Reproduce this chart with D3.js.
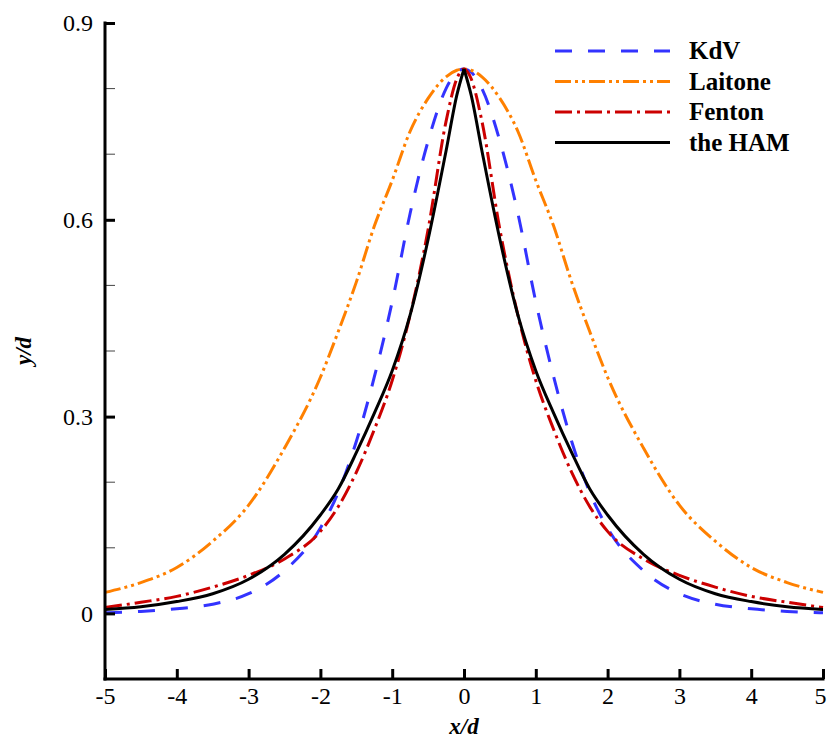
<!DOCTYPE html>
<html>
<head>
<meta charset="utf-8">
<script src="https://cdn.jsdelivr.net/npm/d3@7"></script>
<style>
  body { margin: 0; background: #fff; }
  text { font-family: "Liberation Serif", "Times New Roman", serif; }
</style>
</head>
<body>
<div id="chart-holder"></div>
<script>
      // DATA
      var xs = [-5, -4.5, -4, -3.5, -3, -2.5, -2, -1.75, -1.5, -1.25, -1, -0.75, -0.5, -0.25, -0.1,
                0, 0.1, 0.25, 0.5, 0.75, 1, 1.25, 1.5, 1.75, 2, 2.5, 3, 3.5, 4, 4.5, 5];
      var kdv = [0.001, 0.003, 0.007, 0.014, 0.03, 0.065, 0.13, 0.185, 0.262, 0.36, 0.475, 0.61, 0.72, 0.80, 0.825,
                 0.83, 0.825, 0.80, 0.72, 0.61, 0.475, 0.36, 0.262, 0.185, 0.13, 0.065, 0.03, 0.014, 0.007, 0.003, 0.001];
      var laitone = [0.032, 0.047, 0.07, 0.11, 0.165, 0.252, 0.36, 0.43, 0.505, 0.59, 0.66, 0.735, 0.785, 0.818, 0.828,
                     0.83, 0.828, 0.818, 0.785, 0.735, 0.66, 0.59, 0.505, 0.43, 0.36, 0.252, 0.165, 0.11, 0.07, 0.047, 0.032];
      var fenton = [0.009, 0.017, 0.026, 0.04, 0.058, 0.083, 0.125, 0.163, 0.215, 0.28, 0.355, 0.455, 0.585, 0.75, 0.815,
                    0.83, 0.815, 0.75, 0.585, 0.455, 0.355, 0.28, 0.215, 0.163, 0.125, 0.083, 0.058, 0.04, 0.026, 0.017, 0.009];
      var ham = [0.006, 0.01, 0.018, 0.03, 0.052, 0.09, 0.15, 0.19, 0.245, 0.305, 0.37, 0.455, 0.57, 0.705, 0.79,
                 0.83, 0.79, 0.705, 0.57, 0.455, 0.37, 0.305, 0.245, 0.19, 0.15, 0.09, 0.052, 0.03, 0.018, 0.01, 0.006];
      var seriesNames = ["KdV", "Laitone", "Fenton", "the HAM"];
      var xTicks = [-5, -4, -3, -2, -1, 0, 1, 2, 3, 4, 5];
      var yTicks = [0, 0.3, 0.6, 0.9];
      var yMinorTicks = [-0.1, 0.1, 0.2, 0.4, 0.5, 0.7, 0.8];

      var width = 827, height = 740;
      var margin = { left: 105, right: 4, top: 23, bottom: 61 };
      var fontSize = 24;

      // scales
      var x = d3
        .scaleLinear()
        .domain([-5, 5])
        .range([margin.left, width - margin.right])
      ;
      var y = d3
        .scaleLinear()
        .domain([-0.1, 0.9])
        .range([height - margin.bottom, margin.top])
      ;

      var svg = d3
        .select("#chart-holder")
        .append("svg")
        .attr("width", width)
        .attr("height", height)
      ;

      // line styles for each series
      var styles = [
        { color: "#3333ff", dash: "17,16" },
        { color: "#ff8000", dash: "16,4,3,4,3,4" },
        { color: "#cc0000", dash: "17,5,3,5" },
        { color: "#000000", dash: null }
      ];
      var seriesData = [kdv, laitone, fenton, ham];

      var line = d3
        .line()
        .x(function(d) { return x(d[0]); })
        .y(function(d) { return y(d[1]); })
        .curve(d3.curveMonotoneX)
      ;

      var curves = svg.append("g").attr("id", "curves");
      seriesData.forEach(function(vals, i) {
        var pts = xs.map(function(xv, j) { return [xv, vals[j]]; });
        // the HAM curve has a sharp crest, so draw it as two halves
        var parts = i == 3
          ? [pts.filter(function(p) { return p[0] <= 0; }), pts.filter(function(p) { return p[0] >= 0; })]
          : [pts];
        parts.forEach(function(part) {
          curves
            .append("path")
            .attr("d", line(part))
            .attr("fill", "none")
            .attr("stroke", styles[i].color)
            .attr("stroke-width", 3)
            .attr("stroke-dasharray", styles[i].dash)
          ;
        });
      });

      // plain hyphen for negatives, like the original
      var fmt = function(d) { return String(d); };

      // y axis, ticks pointing inward
      var yAxis = svg.append("g").attr("transform", "translate(" + margin.left + ",0)");
      yAxis
        .selectAll(".minor")
        .data(yMinorTicks)
        .enter()
        .append("line")
        .attr("x1", 0)
        .attr("x2", 10)
        .attr("y1", function(d) { return y(d); })
        .attr("y2", function(d) { return y(d); })
        .attr("stroke", "#444")
        .attr("stroke-width", 1)
      ;
      yAxis
        .call(d3.axisLeft(y).tickValues(yTicks).tickSize(-10).tickPadding(12).tickFormat(fmt))
        .call(function(g) { g.select(".domain").remove(); })
        .attr("font-family", null)
        .attr("font-size", null)
      ;
      yAxis.selectAll(".tick line").attr("stroke-width", 3);
      yAxis.selectAll(".tick text").attr("font-size", fontSize).attr("fill", "#000");
      yAxis
        .append("line")
        .attr("x1", 0).attr("x2", 0)
        .attr("y1", y(0.9) - 1.5).attr("y2", y(-0.1) + 1.5)
        .attr("stroke", "#000")
        .attr("stroke-width", 3)
      ;

      // x axis
      var xAxis = svg.append("g").attr("transform", "translate(0," + y(-0.1) + ")");
      xAxis
        .call(d3.axisBottom(x).tickValues(xTicks).tickSize(-10).tickPadding(8).tickFormat(fmt))
        .call(function(g) { g.select(".domain").remove(); })
        .attr("font-family", null)
        .attr("font-size", null)
      ;
      xAxis.selectAll(".tick line").attr("stroke-width", 3);
      xAxis.selectAll(".tick text")
        .attr("font-size", fontSize)
        .attr("fill", "#000")
        .attr("dx", function(d) { return d == 5 ? -3 : 0; })
      ;
      xAxis
        .append("line")
        .attr("x1", x(-5) - 1.5).attr("x2", x(5) + 1.5)
        .attr("y1", 0).attr("y2", 0)
        .attr("stroke", "#000")
        .attr("stroke-width", 3)
      ;

      // axis titles
      svg
        .append("text")
        .attr("x", x(0))
        .attr("y", 734)
        .attr("text-anchor", "middle")
        .attr("font-size", 23)
        .attr("font-weight", "bold")
        .attr("font-style", "italic")
        .text("x/d")
      ;
      svg
        .append("text")
        .attr("transform", "translate(31," + y(0.4) + ") rotate(-90)")
        .attr("text-anchor", "middle")
        .attr("font-size", 23)
        .attr("font-weight", "bold")
        .attr("font-style", "italic")
        .text("y/d")
      ;

      // legend
      var legend = svg
        .append("g")
        .selectAll("g")
        .data(seriesNames)
        .enter()
        .append("g")
        .attr("transform", function(d, i) { return "translate(555," + (51 + i * 30.5) + ")"; })
      ;
      legend
        .append("line")
        .attr("x1", 0).attr("x2", 115)
        .attr("stroke", function(d, i) { return styles[i].color; })
        .attr("stroke-width", 3)
        .attr("stroke-dasharray", function(d, i) { return styles[i].dash; })
      ;
      legend
        .append("text")
        .attr("x", 134)
        .attr("y", 8)
        .attr("font-size", 25)
        .attr("font-weight", "bold")
        .text(function(d) { return d; })
      ;
</script>
</body>
</html>
